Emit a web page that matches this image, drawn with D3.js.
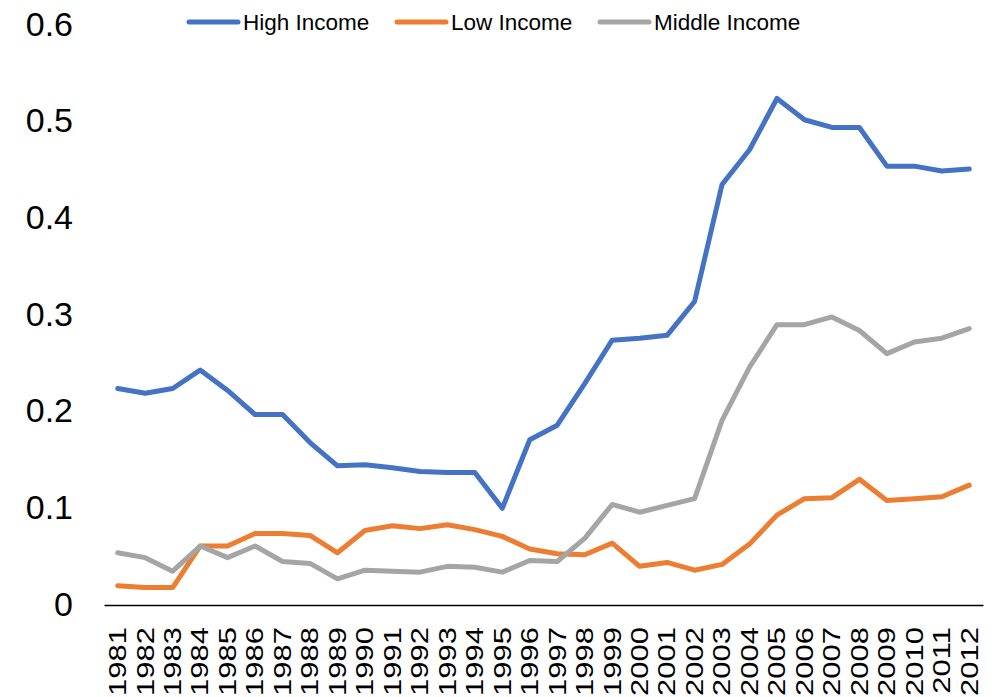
<!DOCTYPE html>
<html>
<head>
<meta charset="utf-8">
<script src="https://cdn.jsdelivr.net/npm/d3@7"></script>
<style>
    body { margin: 0; background: #fff; }
    text { font-family: "Liberation Sans", Arial, sans-serif; fill: #000; }
</style>
</head>
<body>
<div id="chart"></div>
<script>
// chart data
const years = d3.range(1981, 2013).map(String);

const highIncome = [
    0.224, 0.219, 0.224, 0.243, 0.222, 0.197, 0.197, 0.168, 0.144, 0.145,
    0.142, 0.138, 0.137, 0.137, 0.100, 0.171, 0.186, 0.229, 0.274, 0.276,
    0.279, 0.314, 0.435, 0.471, 0.524, 0.502, 0.494, 0.494, 0.454, 0.454,
    0.449, 0.451
];

const lowIncome = [
    0.020, 0.018, 0.018, 0.061, 0.061, 0.074, 0.074, 0.072, 0.054, 0.077,
    0.082, 0.079, 0.083, 0.078, 0.071, 0.058, 0.053, 0.052, 0.064, 0.040,
    0.044, 0.036, 0.042, 0.063, 0.093, 0.110, 0.111, 0.130, 0.108, 0.110,
    0.112, 0.124
];

const middleIncome = [
    0.054, 0.049, 0.035, 0.061, 0.049, 0.061, 0.045, 0.043, 0.027, 0.036,
    0.035, 0.034, 0.040, 0.039, 0.034, 0.046, 0.045, 0.069, 0.104, 0.096,
    0.103, 0.110, 0.191, 0.246, 0.290, 0.290, 0.298, 0.284, 0.260, 0.272,
    0.276, 0.286
];

const yTicks = [0, 0.1, 0.2, 0.3, 0.4, 0.5, 0.6];

const series = [
    { name: "High Income", values: highIncome, color: "#4472C4", legendX: 187 },
    { name: "Low Income", values: lowIncome, color: "#ED7D31", legendX: 395 },
    { name: "Middle Income", values: middleIncome, color: "#A5A5A5", legendX: 598 }
];

const width = 1005;
const height = 697;

const svg = d3.select("#chart")
    .append("svg")
    .attr("width", width)
    .attr("height", height);

const x = d3.scaleBand()
    .domain(years)
    .range([104, 983])
    .padding(0);

const y = d3.scaleLinear()
    .domain([0, 0.6])
    .range([605, 25]);

// x axis
const xAxis = svg.append("g")
    .attr("transform", "translate(0,605)")
    .call(d3.axisBottom(x).tickSize(0).tickSizeOuter(0));

xAxis.select(".domain")
    .attr("stroke", "#000")
    .attr("stroke-width", 1.5);

xAxis.selectAll(".tick text")
    .attr("font-size", 31)
    .attr("text-anchor", "end")
    .attr("transform", "translate(0,22) rotate(-90) scale(1,0.77)")
    .attr("x", 0)
    .attr("y", 0)
    .attr("dy", "0.35em");

// y axis
const yAxis = svg.append("g")
    .attr("transform", "translate(73,0)")
    .call(d3.axisLeft(y)
        .tickValues(yTicks)
        .tickSize(0)
        .tickFormat(d => d === 0 ? "0" : d3.format(".1f")(d)));

yAxis.select(".domain").remove();
yAxis.selectAll(".tick text")
    .attr("font-size", 34)
    .attr("x", 0)
    .attr("dy", "0.3em");

// lines
const line = d3.line()
    .x((d, i) => x(years[i]) + x.bandwidth() / 2)
    .y(d => y(d));

svg.selectAll(".series")
    .data(series)
    .enter()
    .append("path")
    .attr("class", "series")
    .attr("d", d => line(d.values))
    .attr("fill", "none")
    .attr("stroke", d => d.color)
    .attr("stroke-width", 5)
    .attr("stroke-linejoin", "round")
    .attr("stroke-linecap", "round");

// legend
const legend = svg.selectAll(".legend")
    .data(series)
    .enter()
    .append("g")
    .attr("class", "legend")
    .attr("transform", d => `translate(${d.legendX},22)`);

legend.append("line")
    .attr("x1", 2)
    .attr("x2", 51)
    .attr("stroke", d => d.color)
    .attr("stroke-width", 5)
    .attr("stroke-linecap", "round");

legend.append("text")
    .attr("x", 56)
    .attr("dy", "0.36em")
    .attr("font-size", 22.5)
    .text(d => d.name);
</script>
</body>
</html>
